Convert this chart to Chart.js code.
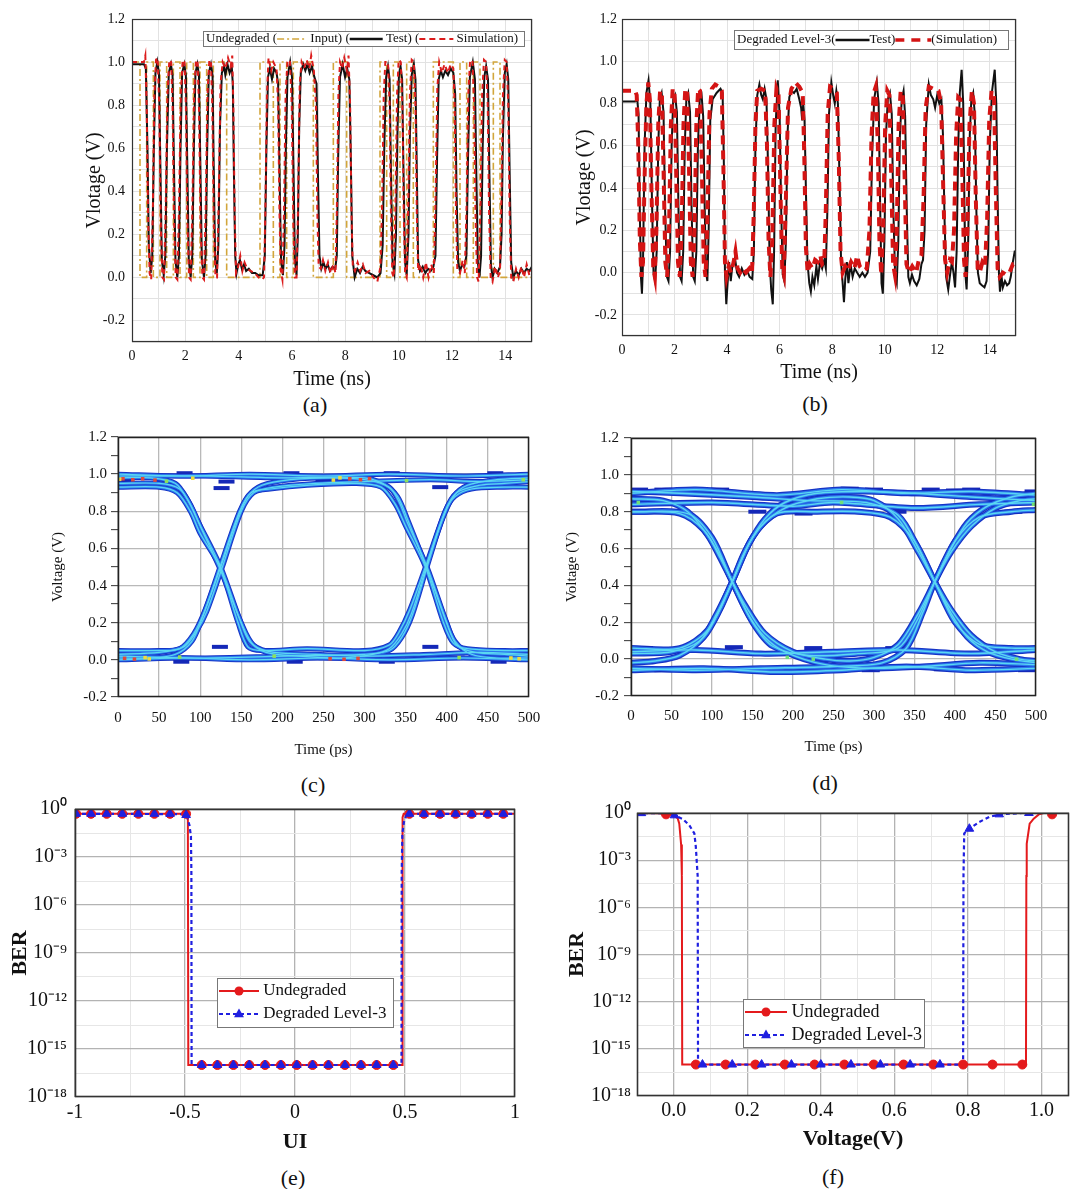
<!DOCTYPE html>
<html>
<head>
<meta charset="utf-8">
<script src="https://cdn.jsdelivr.net/npm/chart.js@4.4.1/dist/chart.umd.min.js"></script>
<style>
  body { margin: 0; background: #fff; }
  #page { position: relative; width: 1075px; height: 1189px; overflow: hidden; background: #fff;
          font-family: "Liberation Serif", "Times New Roman", serif; }
  #page canvas { position: absolute; }
  .cap { position: absolute; font-size: 22px; color: #111; transform: translate(-50%, -50%); white-space: nowrap; }
</style>
</head>
<body>
<div id="page">
  <div class="cap" style="left:315px;top:405px">(a)</div>
  <div class="cap" style="left:815px;top:404px">(b)</div>
  <div class="cap" style="left:313px;top:785px">(c)</div>
  <div class="cap" style="left:825px;top:783px">(d)</div>
  <div class="cap" style="left:293px;top:1178px">(e)</div>
  <div class="cap" style="left:833px;top:1177px">(f)</div>
</div>
<script>
// ---- data ----

// (a) undegraded waveform, time in ns, voltage in V
const inputA = [[0,1],[0.3,0],[0.55,1],[0.8,0],[1.05,1],[1.3,0],[1.55,1],[1.8,0],[2.05,1],[2.3,0],[2.55,1],[2.8,0],[3.05,1],[3.55,0],[4.8,1],[5.3,0],[5.55,1],[5.8,0],[6.05,1],[6.8,0],[7.55,1],[8.05,0],[9.3,1],[9.55,0],[9.8,1],[10.05,0],[10.3,1],[10.55,0],[11.3,1],[12.05,0],[12.3,1],[12.55,0],[12.8,1],[13.05,0],[13.55,1],[13.8,0],[15,0]];
const testA = [[0,0.99],[0.45,0.99],[0.52,0.97],[0.58,0.6],[0.63,0.15],[0.7,0.02],[0.76,0.1],[0.82,0.6],[0.88,0.95],[0.95,1.0],[1.01,0.95],[1.06,0.55],[1.12,0.08],[1.19,0.01],[1.25,0.1],[1.31,0.6],[1.38,0.95],[1.46,0.99],[1.52,0.94],[1.57,0.55],[1.63,0.08],[1.7,0.0],[1.76,0.1],[1.82,0.6],[1.88,0.95],[1.96,0.99],[2.02,0.94],[2.07,0.55],[2.13,0.08],[2.2,0.0],[2.26,0.1],[2.32,0.6],[2.38,0.95],[2.45,0.99],[2.51,0.94],[2.56,0.55],[2.62,0.08],[2.7,0.0],[2.76,0.1],[2.82,0.6],[2.88,0.95],[2.96,0.99],[3.02,0.94],[3.06,0.55],[3.12,0.08],[3.18,0.02],[3.24,0.15],[3.3,0.7],[3.37,0.95],[3.45,0.98],[3.5,0.94],[3.58,0.99],[3.66,0.95],[3.74,0.98],[3.78,0.9],[3.82,0.5],[3.87,0.1],[3.92,0.02],[3.98,0.06],[4.05,0.08],[4.12,0.04],[4.2,0.06],[4.28,0.03],[4.38,0.04],[4.5,0.02],[4.62,0.02],[4.75,0.01],[4.9,0.01],[4.98,0.1],[5.04,0.6],[5.1,0.93],[5.17,0.97],[5.25,0.92],[5.33,0.97],[5.42,0.95],[5.48,0.9],[5.53,0.5],[5.59,0.08],[5.66,0.01],[5.72,0.15],[5.77,0.6],[5.83,0.93],[5.93,1.0],[6.0,0.93],[6.05,0.55],[6.11,0.08],[6.17,0.01],[6.22,0.2],[6.27,0.7],[6.33,0.95],[6.42,0.99],[6.5,0.96],[6.58,0.99],[6.66,0.95],[6.75,0.98],[6.84,0.93],[6.92,0.9],[6.97,0.5],[7.03,0.1],[7.1,0.04],[7.18,0.07],[7.26,0.04],[7.34,0.06],[7.42,0.03],[7.52,0.05],[7.62,0.04],[7.68,0.1],[7.73,0.55],[7.8,0.93],[7.9,0.99],[7.99,0.93],[8.07,0.97],[8.15,0.92],[8.2,0.6],[8.26,0.1],[8.35,0.0],[8.45,0.04],[8.55,0.02],[8.65,0.05],[8.75,0.03],[8.9,0.02],[9.05,0.01],[9.2,0.0],[9.32,0.02],[9.4,0.15],[9.46,0.6],[9.53,0.93],[9.6,0.98],[9.66,0.92],[9.71,0.5],[9.77,0.07],[9.84,0.02],[9.9,0.2],[9.95,0.65],[10.01,0.94],[10.07,0.98],[10.13,0.92],[10.18,0.5],[10.24,0.07],[10.3,0.01],[10.37,0.2],[10.42,0.65],[10.49,0.94],[10.57,0.99],[10.63,0.92],[10.68,0.5],[10.73,0.08],[10.8,0.03],[10.9,0.05],[11.0,0.02],[11.1,0.04],[11.2,0.03],[11.3,0.05],[11.38,0.1],[11.44,0.55],[11.5,0.92],[11.58,0.96],[11.66,0.93],[11.75,0.96],[11.85,0.94],[11.95,0.97],[12.05,0.95],[12.12,0.85],[12.17,0.4],[12.23,0.07],[12.3,0.03],[12.38,0.06],[12.46,0.05],[12.54,0.1],[12.6,0.55],[12.67,0.93],[12.78,1.0],[12.86,0.92],[12.91,0.5],[12.97,0.07],[13.03,0.0],[13.09,0.1],[13.15,0.6],[13.21,0.93],[13.28,0.98],[13.35,0.92],[13.4,0.5],[13.46,0.06],[13.52,0.0],[13.6,0.04],[13.7,0.02],[13.8,0.05],[13.86,0.2],[13.91,0.65],[13.98,0.95],[14.05,0.99],[14.11,0.92],[14.16,0.5],[14.22,0.07],[14.3,0.0],[14.4,0.03],[14.5,0.01],[14.6,0.04],[14.7,0.02],[14.8,0.04],[14.9,0.03],[15,0.05]];
const simA = [[0,1.0],[0.45,1.0],[0.5,1.03],[0.55,0.8],[0.6,0.3],[0.66,0.02],[0.72,-0.01],[0.78,0.3],[0.84,0.85],[0.9,1.01],[0.96,1.02],[1.02,0.8],[1.08,0.25],[1.14,0.0],[1.2,-0.01],[1.26,0.3],[1.33,0.85],[1.4,1.01],[1.47,1.0],[1.52,0.8],[1.58,0.25],[1.64,0.0],[1.7,-0.01],[1.76,0.3],[1.83,0.85],[1.9,1.01],[1.97,1.0],[2.02,0.8],[2.08,0.25],[2.14,0.0],[2.2,-0.01],[2.26,0.3],[2.33,0.85],[2.4,1.01],[2.46,1.0],[2.51,0.8],[2.57,0.25],[2.64,0.0],[2.7,-0.01],[2.76,0.3],[2.83,0.85],[2.9,1.01],[2.96,1.0],[3.01,0.8],[3.07,0.25],[3.13,0.0],[3.19,0.0],[3.25,0.35],[3.32,0.9],[3.4,1.0],[3.5,0.97],[3.6,1.02],[3.7,0.98],[3.76,1.03],[3.8,0.8],[3.85,0.3],[3.9,0.02],[3.98,0.05],[4.06,0.1],[4.14,0.03],[4.22,0.07],[4.32,0.04],[4.45,0.03],[4.6,0.02],[4.75,0.0],[4.88,-0.01],[4.95,0.0],[5.0,0.3],[5.06,0.85],[5.12,1.02],[5.22,0.96],[5.3,1.0],[5.42,0.97],[5.48,0.8],[5.53,0.3],[5.58,0.03],[5.64,-0.01],[5.7,0.3],[5.76,0.85],[5.83,1.0],[5.92,1.01],[5.99,0.8],[6.05,0.25],[6.11,0.0],[6.17,0.0],[6.23,0.35],[6.29,0.9],[6.36,1.0],[6.45,0.97],[6.55,1.01],[6.65,0.97],[6.72,1.03],[6.82,0.96],[6.9,0.8],[6.95,0.3],[7.0,0.05],[7.08,0.04],[7.16,0.08],[7.25,0.03],[7.35,0.07],[7.45,0.02],[7.55,0.06],[7.63,0.02],[7.68,0.3],[7.74,0.85],[7.8,1.0],[7.88,0.97],[7.96,1.02],[8.06,0.96],[8.12,1.03],[8.18,0.8],[8.23,0.3],[8.28,0.05],[8.36,0.03],[8.46,0.07],[8.56,0.03],[8.66,0.06],[8.76,0.02],[8.9,0.03],[9.05,0.0],[9.2,-0.02],[9.32,0.05],[9.38,0.35],[9.44,0.85],[9.5,1.0],[9.6,1.0],[9.66,0.8],[9.71,0.3],[9.76,0.02],[9.82,0.0],[9.88,0.35],[9.94,0.85],[10.0,1.01],[10.08,1.0],[10.14,0.8],[10.19,0.3],[10.24,0.02],[10.3,0.0],[10.36,0.35],[10.42,0.85],[10.49,1.01],[10.57,1.0],[10.63,0.8],[10.68,0.3],[10.73,0.03],[10.82,0.06],[10.92,0.0],[11.02,0.07],[11.12,0.0],[11.22,0.06],[11.32,0.02],[11.38,0.35],[11.45,0.88],[11.52,1.0],[11.62,0.95],[11.72,0.99],[11.85,0.95],[11.95,0.99],[12.05,0.97],[12.1,0.8],[12.15,0.3],[12.2,0.03],[12.3,0.02],[12.4,0.08],[12.48,0.02],[12.55,0.35],[12.61,0.85],[12.68,1.01],[12.77,1.0],[12.83,0.8],[12.88,0.3],[12.94,0.0],[13.0,-0.02],[13.07,0.35],[13.13,0.85],[13.2,1.01],[13.28,1.0],[13.34,0.8],[13.39,0.3],[13.45,0.0],[13.52,-0.02],[13.62,0.05],[13.72,0.0],[13.8,0.03],[13.85,0.35],[13.91,0.85],[13.98,1.01],[14.05,1.0],[14.11,0.8],[14.16,0.3],[14.22,0.0],[14.3,-0.02],[14.4,0.04],[14.5,0.0],[14.6,0.05],[14.7,0.0],[14.8,0.06],[14.9,0.01],[15,0.04]];

// (b) degraded level-3 waveform
const testB = [[0,0.81],[0.5,0.81],[0.58,0.82],[0.63,0.75],[0.67,0.35],[0.72,-0.02],[0.76,-0.1],[0.8,0.05],[0.86,0.6],[0.93,0.85],[1.01,0.91],[1.08,0.8],[1.14,0.35],[1.2,0.0],[1.26,-0.04],[1.32,0.1],[1.38,0.6],[1.44,0.82],[1.51,0.85],[1.58,0.76],[1.64,0.3],[1.71,-0.02],[1.77,-0.04],[1.83,0.1],[1.89,0.6],[1.95,0.82],[2.02,0.84],[2.09,0.76],[2.15,0.3],[2.21,-0.02],[2.27,-0.04],[2.33,0.1],[2.39,0.6],[2.45,0.82],[2.52,0.85],[2.59,0.76],[2.65,0.3],[2.71,-0.02],[2.77,-0.04],[2.83,0.1],[2.89,0.6],[2.96,0.82],[3.03,0.84],[3.09,0.74],[3.15,0.3],[3.2,0.0],[3.25,-0.04],[3.3,0.2],[3.36,0.72],[3.45,0.82],[3.6,0.85],[3.75,0.87],[3.83,0.85],[3.88,0.5],[3.92,0.0],[3.97,-0.15],[4.02,-0.05],[4.08,0.05],[4.14,-0.04],[4.2,0.03],[4.3,0.07],[4.38,0.0],[4.46,-0.02],[4.56,0.02],[4.66,-0.01],[4.76,0.01],[4.86,-0.02],[4.96,-0.03],[5.02,0.1],[5.08,0.6],[5.15,0.84],[5.23,0.89],[5.3,0.84],[5.36,0.82],[5.43,0.87],[5.5,0.82],[5.56,0.5],[5.62,0.05],[5.68,-0.08],[5.74,-0.15],[5.79,0.1],[5.85,0.7],[5.93,0.91],[6.0,0.75],[6.06,0.3],[6.12,-0.01],[6.18,-0.04],[6.24,0.15],[6.3,0.65],[6.37,0.83],[6.45,0.86],[6.55,0.85],[6.65,0.87],[6.75,0.82],[6.82,0.78],[6.86,0.72],[6.9,0.8],[6.95,0.72],[7.0,0.4],[7.06,0.05],[7.13,-0.05],[7.19,-0.09],[7.25,-0.02],[7.32,-0.06],[7.4,0.03],[7.46,-0.03],[7.54,0.05],[7.62,0.02],[7.7,0.06],[7.76,0.02],[7.82,0.3],[7.88,0.75],[7.97,0.9],[8.04,0.84],[8.1,0.8],[8.16,0.86],[8.22,0.8],[8.28,0.45],[8.34,0.05],[8.4,-0.05],[8.45,-0.14],[8.5,-0.03],[8.56,0.05],[8.62,-0.05],[8.7,0.04],[8.78,-0.02],[8.86,0.02],[8.95,0.0],[9.05,-0.02],[9.15,0.0],[9.25,-0.02],[9.35,0.0],[9.45,0.1],[9.52,0.55],[9.6,0.82],[9.7,0.9],[9.77,0.8],[9.83,0.3],[9.88,-0.05],[9.93,-0.1],[9.99,0.15],[10.05,0.65],[10.12,0.82],[10.2,0.85],[10.27,0.75],[10.33,0.3],[10.4,-0.02],[10.46,-0.05],[10.52,0.15],[10.58,0.65],[10.65,0.82],[10.72,0.86],[10.78,0.74],[10.84,0.3],[10.9,-0.02],[10.96,-0.05],[11.04,-0.01],[11.12,-0.04],[11.22,-0.06],[11.32,-0.03],[11.4,0.04],[11.46,0.06],[11.52,0.2],[11.58,0.7],[11.68,0.89],[11.76,0.84],[11.85,0.82],[11.92,0.78],[12.0,0.84],[12.08,0.8],[12.16,0.82],[12.22,0.65],[12.28,0.25],[12.34,-0.02],[12.42,-0.08],[12.5,0.0],[12.56,0.05],[12.62,0.0],[12.68,-0.07],[12.74,0.1],[12.8,0.6],[12.86,0.85],[12.93,0.96],[12.99,0.8],[13.04,0.3],[13.08,-0.02],[13.12,-0.08],[13.18,0.15],[13.24,0.65],[13.3,0.82],[13.37,0.85],[13.43,0.75],[13.49,0.3],[13.55,0.0],[13.62,-0.05],[13.7,-0.06],[13.8,-0.07],[13.88,-0.04],[13.94,0.1],[14.0,0.6],[14.08,0.85],[14.19,0.96],[14.25,0.8],[14.3,0.35],[14.35,0.0],[14.39,-0.09],[14.45,-0.02],[14.5,-0.07],[14.58,-0.04],[14.66,-0.06],[14.74,-0.05],[14.8,-0.02],[14.88,0.05],[14.95,0.1],[15,0.1]];
const simB = [[0,0.86],[0.5,0.86],[0.56,0.84],[0.62,0.6],[0.68,0.15],[0.74,-0.02],[0.8,0.05],[0.86,0.45],[0.93,0.8],[1.0,0.9],[1.06,0.82],[1.12,0.4],[1.19,0.02],[1.25,-0.02],[1.31,0.2],[1.38,0.7],[1.45,0.86],[1.52,0.84],[1.58,0.5],[1.65,0.05],[1.72,-0.02],[1.79,0.2],[1.86,0.7],[1.93,0.87],[2.0,0.85],[2.06,0.5],[2.13,0.05],[2.2,-0.02],[2.27,0.2],[2.34,0.7],[2.41,0.87],[2.48,0.86],[2.55,0.5],[2.62,0.05],[2.69,-0.02],[2.76,0.2],[2.83,0.7],[2.9,0.87],[2.97,0.86],[3.04,0.5],[3.11,0.05],[3.18,-0.02],[3.25,0.25],[3.33,0.75],[3.42,0.87],[3.55,0.89],[3.7,0.88],[3.8,0.86],[3.86,0.5],[3.92,0.05],[3.98,-0.02],[4.06,0.03],[4.15,0.0],[4.25,0.05],[4.32,0.1],[4.4,0.02],[4.5,0.0],[4.6,0.02],[4.72,0.0],[4.85,0.02],[4.95,0.0],[5.02,0.3],[5.08,0.7],[5.15,0.86],[5.3,0.87],[5.45,0.86],[5.52,0.6],[5.58,0.15],[5.65,-0.02],[5.72,0.15],[5.8,0.7],[5.88,0.87],[5.96,0.84],[6.03,0.4],[6.1,0.02],[6.16,-0.01],[6.24,0.35],[6.32,0.78],[6.45,0.87],[6.6,0.9],[6.75,0.88],[6.88,0.85],[6.94,0.55],[7.0,0.12],[7.07,0.0],[7.15,0.04],[7.25,0.02],[7.35,0.06],[7.45,0.05],[7.55,0.08],[7.62,0.04],[7.7,0.05],[7.76,0.3],[7.83,0.75],[7.92,0.88],[8.05,0.87],[8.18,0.85],[8.25,0.55],[8.32,0.1],[8.4,0.0],[8.5,0.03],[8.6,0.01],[8.72,0.05],[8.85,0.02],[8.95,0.08],[9.05,0.03],[9.2,0.01],[9.32,0.02],[9.42,0.2],[9.5,0.65],[9.58,0.85],[9.66,0.88],[9.74,0.6],[9.8,0.15],[9.87,-0.01],[9.94,0.2],[10.02,0.7],[10.1,0.86],[10.18,0.84],[10.25,0.45],[10.32,0.04],[10.39,-0.01],[10.46,0.2],[10.53,0.7],[10.61,0.86],[10.69,0.84],[10.76,0.45],[10.83,0.04],[10.92,0.0],[11.05,0.03],[11.2,0.0],[11.3,0.06],[11.4,0.08],[11.48,0.35],[11.56,0.78],[11.68,0.88],[11.85,0.87],[12.05,0.86],[12.15,0.8],[12.22,0.45],[12.3,0.06],[12.38,0.0],[12.48,0.06],[12.56,0.05],[12.64,0.2],[12.72,0.65],[12.8,0.83],[12.88,0.82],[12.95,0.5],[13.02,0.06],[13.08,-0.02],[13.15,0.2],[13.23,0.7],[13.32,0.86],[13.4,0.8],[13.47,0.35],[13.54,0.02],[13.62,0.0],[13.72,0.05],[13.82,0.03],[13.9,0.25],[13.98,0.72],[14.07,0.86],[14.16,0.84],[14.23,0.4],[14.3,0.02],[14.38,-0.02],[14.5,0.0],[14.62,-0.01],[14.75,0.0],[14.88,0.04],[15,0.04]];

// (c) undegraded eye, time in ps, voltage in V, one array per traced path
const eyeC = [
  [[0,0.01],[40,0.01],[70,0.03],[90,0.1],[102,0.22],[125,0.5],[145,0.76],[158,0.88],[175,0.94],[210,0.97],[260,0.98],[300,0.97],[325,0.94],[340,0.88],[352,0.76],[375,0.5],[398,0.22],[410,0.1],[430,0.03],[460,0.01],[500,0.01]],
  [[0,0.98],[40,0.98],[70,0.95],[85,0.86],[97,0.75],[125,0.5],[148,0.22],[160,0.1],[180,0.04],[220,0.02],[270,0.01],[310,0.03],[330,0.06],[345,0.14],[357,0.25],[375,0.5],[395,0.76],[408,0.88],[425,0.94],[460,0.97],[500,0.98]],
  [[0,0.03],[50,0.04],[80,0.07],[95,0.15],[108,0.26],[127,0.5],[150,0.8],[165,0.9],[190,0.93],[240,0.95],[300,0.96],[380,0.97],[440,0.96],[500,0.97]],
  [[0,0.95],[50,0.95],[75,0.92],[90,0.82],[102,0.7],[125,0.48],[150,0.2],[165,0.08],[190,0.04],[240,0.03],[300,0.02],[380,0.03],[440,0.04],[500,0.03]],
  [[0,0.99],[100,0.99],[200,0.98],[300,0.98],[330,0.93],[342,0.85],[352,0.74],[376,0.5],[400,0.2],[412,0.08],[435,0.04],[470,0.03],[500,0.02]],
  [[0,0.02],[100,0.01],[200,0.02],[300,0.03],[330,0.05],[345,0.12],[358,0.24],[376,0.5],[398,0.8],[412,0.9],[440,0.94],[470,0.95],[500,0.96]],
  [[0,1.0],[80,0.99],[160,1.0],[250,0.99],[330,1.0],[420,0.99],[500,1.0]],
  [[0,0.0],[80,0.01],[160,0.0],[250,0.01],[330,0.0],[420,0.01],[500,0.0]],
  [[0,0.05],[50,0.05],[75,0.06],[92,0.14],[106,0.27],[124,0.5],[148,0.8],[162,0.9],[185,0.92],[230,0.94],[290,0.95],[320,0.93],[337,0.84],[350,0.72],[374,0.5],[396,0.2],[408,0.09],[425,0.06],[470,0.05],[500,0.05]],
  [[0,0.93],[50,0.93],[72,0.9],[88,0.8],[100,0.68],[124,0.5],[146,0.2],[158,0.07],[175,0.05],[230,0.06],[300,0.05],[330,0.08],[342,0.15],[355,0.27],[374,0.5],[398,0.8],[410,0.88],[430,0.92],[470,0.93],[500,0.93]]
];
const eyeCBars = [[81,1.005],[211,1.005],[333,1.005],[459,1.005],[10,0.965],[132,0.96],[250,0.965],[392,0.93],[126,0.925],[77,-0.01],[215,-0.01],[327,-0.01],[463,-0.01],[59,0.012],[189,0.012],[311,0.012],[412,0.012],[124,0.07],[380,0.07]];
const eyeCRed = [[6,0.975],[18,0.97],[30,0.975],[45,0.968],[282,0.975],[295,0.97],[306,0.976],[8,0.008],[20,0.004],[258,0.006],[275,0.003],[292,0.008]];
const eyeCYellow = [[2,0.972],[91,0.978],[262,0.968],[270,0.98],[33,0.012],[38,0.005],[478,0.01],[488,0.006]];
const eyeCGreen = [[59,0.962],[351,0.965],[493,0.97],[75,0.015],[190,0.02],[415,0.012]];

// (d) degraded eye
const eyeD = [
  [[0,-0.02],[30,-0.01],[60,0.02],[90,0.12],[110,0.27],[125,0.42],[140,0.58],[160,0.72],[190,0.82],[230,0.87],[270,0.88],[300,0.86],[330,0.76],[355,0.58],[375,0.42],[395,0.27],[420,0.13],[450,0.04],[480,0.0],[500,-0.01]],
  [[0,0.87],[40,0.86],[70,0.8],[95,0.67],[110,0.55],[125,0.42],[140,0.3],[165,0.14],[200,0.04],[240,0.0],[270,-0.01],[300,0.01],[330,0.08],[355,0.25],[375,0.42],[395,0.58],[420,0.72],[450,0.82],[480,0.86],[500,0.87]],
  [[0,0.03],[50,0.04],[85,0.1],[105,0.24],[125,0.42],[145,0.62],[165,0.76],[190,0.85],[230,0.9],[290,0.91],[350,0.9],[420,0.88],[500,0.86]],
  [[0,0.8],[60,0.79],[90,0.7],[110,0.56],[125,0.42],[145,0.24],[165,0.12],[190,0.04],[240,-0.03],[300,-0.05],[360,-0.04],[430,-0.02],[500,-0.03]],
  [[0,0.91],[60,0.9],[150,0.88],[220,0.86],[290,0.85],[330,0.78],[355,0.6],[375,0.42],[395,0.25],[415,0.12],[440,0.04],[470,0.0],[500,-0.02]],
  [[0,-0.05],[80,-0.06],[160,-0.05],[250,-0.04],[310,-0.02],[340,0.06],[360,0.25],[375,0.42],[395,0.6],[415,0.74],[440,0.83],[470,0.88],[500,0.9]],
  [[0,0.84],[100,0.85],[200,0.83],[250,0.85],[350,0.82],[430,0.84],[500,0.85]],
  [[0,0.04],[80,0.05],[160,0.03],[250,0.04],[330,0.05],[420,0.03],[500,0.05]],
  [[0,0.9],[80,0.92],[180,0.89],[260,0.92],[340,0.9],[420,0.91],[500,0.89]],
  [[0,-0.06],[90,-0.05],[180,-0.07],[260,-0.06],[340,-0.04],[420,-0.06],[500,-0.05]],
  [[0,0.8],[70,0.79],[100,0.66],[125,0.42],[150,0.2],[175,0.07],[220,0.02],[280,0.03],[330,0.06],[352,0.2],[375,0.42],[400,0.64],[430,0.77],[470,0.8],[500,0.81]],
  [[0,0.06],[60,0.06],[95,0.16],[125,0.42],[150,0.66],[180,0.79],[230,0.8],[280,0.8],[320,0.77],[350,0.64],[375,0.42],[400,0.2],[430,0.08],[470,0.06],[500,0.06]]
];
const eyeDBars = [[10,0.92],[40,0.92],[110,0.92],[270,0.925],[300,0.92],[370,0.92],[400,0.915],[420,0.92],[497,0.91],[28,0.8],[156,0.8],[213,0.79],[329,0.8],[472,0.8],[40,-0.06],[106,-0.055],[200,-0.065],[296,-0.06],[385,-0.055],[489,-0.06],[16,0.06],[127,0.065],[225,0.06],[325,0.06],[497,0.06]];
const eyeDGreen = [[9,0.85],[260,0.85],[497,0.84],[225,0.0],[476,0.0],[193,0.01]];

// (e) BER vs UI
const berUiUndeg = [[-1,0.5],[-0.49,0.5],[-0.487,0.3],[-0.485,1e-16],[0.487,1e-16],[0.489,0.3],[0.494,0.5],[1,0.5]];
const berUiDeg = [[-1,0.5],[-0.5,0.48],[-0.49,0.3],[-0.48,0.1],[-0.473,0.02],[-0.471,1e-4],[-0.47,1e-16],[0.484,1e-16],[0.485,1e-4],[0.488,0.03],[0.495,0.15],[0.505,0.35],[0.52,0.5],[1,0.5]];
const berUiUndegMarks = [[-0.995,0.5],[-0.927,0.5],[-0.856,0.5],[-0.785,0.5],[-0.712,0.5],[-0.639,0.5],[-0.568,0.5],[-0.495,0.5],[-0.424,1e-16],[-0.353,1e-16],[-0.28,1e-16],[-0.208,1e-16],[-0.136,1e-16],[-0.064,1e-16],[0.008,1e-16],[0.08,1e-16],[0.152,1e-16],[0.227,1e-16],[0.3,1e-16],[0.371,1e-16],[0.447,1e-16],[0.52,0.5],[0.586,0.5],[0.659,0.5],[0.73,0.5],[0.803,0.5],[0.876,0.5],[0.947,0.5]];
const berUiDegMarks = [[-0.995,0.5],[-0.927,0.5],[-0.856,0.5],[-0.785,0.5],[-0.712,0.5],[-0.639,0.5],[-0.568,0.5],[-0.495,0.42],[-0.424,1e-16],[-0.353,1e-16],[-0.28,1e-16],[-0.208,1e-16],[-0.136,1e-16],[-0.064,1e-16],[0.008,1e-16],[0.08,1e-16],[0.152,1e-16],[0.227,1e-16],[0.3,1e-16],[0.371,1e-16],[0.447,1e-16],[0.52,0.5],[0.586,0.5],[0.659,0.5],[0.73,0.5],[0.803,0.5],[0.876,0.5],[0.947,0.5]];

// (f) BER vs voltage
const berVUndeg = [[-0.1,1.0],[-0.04,0.95],[-0.021,0.82],[0.0,0.72],[0.011,0.44],[0.015,0.21],[0.02,0.01],[0.022,1e-4],[0.023,1e-16],[0.958,1e-16],[0.959,1e-4],[0.96,0.011],[0.968,0.21],[0.979,0.44],[0.993,0.82],[1.006,1.0],[1.075,1.0]];
const berVDeg = [[-0.1,1.0],[-0.02,0.98],[0.002,0.71],[0.025,0.4],[0.042,0.17],[0.056,0.05],[0.06,0.007],[0.065,1e-4],[0.066,1e-16],[0.787,1e-16],[0.788,1e-4],[0.79,0.05],[0.804,0.1],[0.831,0.27],[0.858,0.56],[0.885,0.82],[0.948,1.0],[1.075,1.0]];
const berVUndegMarks = [[-0.021,0.82],[0.06,1e-16],[0.141,1e-16],[0.222,1e-16],[0.302,1e-16],[0.383,1e-16],[0.464,1e-16],[0.544,1e-16],[0.625,1e-16],[0.706,1e-16],[0.787,1e-16],[0.867,1e-16],[0.948,1e-16],[1.029,0.82]];
const berVDegMarks = [[-0.088,0.98],[0.002,0.71],[0.078,1e-16],[0.159,1e-16],[0.239,1e-16],[0.32,1e-16],[0.4,1e-16],[0.482,1e-16],[0.562,1e-16],[0.643,1e-16],[0.724,1e-16],[0.804,0.1],[0.885,0.82],[0.966,1.0]];

// tick positions and labels
const waveXTicks = [0,1,2,3,4,5,6,7,8,9,10,11,12,13,14,15];
const waveXLabels = [0,2,4,6,8,10,12,14];
const waveYTicks = [-0.3,-0.2,-0.1,0,0.1,0.2,0.3,0.4,0.5,0.6,0.7,0.8,0.9,1.0,1.1,1.2];
const waveYLabels = [-0.2,0,0.2,0.4,0.6,0.8,1.0,1.2];
const eyeXTicks = [0,50,100,150,200,250,300,350,400,450,500];
const eyeYTicks = [-0.2,-0.1,0,0.1,0.2,0.3,0.4,0.5,0.6,0.7,0.8,0.9,1.0,1.1,1.2];
const eyeYLabels = [-0.2,0,0.2,0.4,0.6,0.8,1.0,1.2];
const uiTicks = [-1,-0.75,-0.5,-0.25,0,0.25,0.5,0.75,1];
const uiLabels = [-1,-0.5,0,0.5,1];
const voltTicks = [-0.1,0,0.1,0.2,0.3,0.4,0.5,0.6,0.7,0.8,0.9,1.0];
const voltLabels = [0,0.2,0.4,0.6,0.8,1.0];
const berMajorExp = [0,-3,-6,-9,-12,-15,-18];
const berMinorExp = [-1.5,-4.5,-7.5,-10.5,-13.5,-16.5];

// ---- helpers ----
Chart.defaults.font.family = '"Liberation Serif", "Times New Roman", serif';
Chart.defaults.color = '#111';

const pts = a => a.map(([x, y]) => ({x, y}));
const inList = (list, v) => list.some(l => Math.abs(l - v) < 1e-9);
const SUP = {'0':'⁰','1':'¹','2':'²','3':'³','4':'⁴','5':'⁵','6':'⁶','7':'⁷','8':'⁸','9':'⁹','-':'⁻'};
const powLabel = e => '10' + String(e).split('').map(c => SUP[c]).join('');

const panels = {
  a: {left: 60,  top: 0,   w: 490, h: 395, area: {l: 132, r: 532,  t: 19,  b: 342}},
  b: {left: 555, top: 0,   w: 475, h: 390, area: {l: 622, r: 1016, t: 19,  b: 336}},
  c: {left: 35,  top: 420, w: 510, h: 345, area: {l: 118, r: 529,  t: 437, b: 697}},
  d: {left: 555, top: 420, w: 495, h: 345, area: {l: 631, r: 1036, t: 438, b: 696}},
  e: {left: 0,   top: 790, w: 545, h: 370, area: {l: 75,  r: 515,  t: 809, b: 1097}},
  f: {left: 555, top: 790, w: 520, h: 370, area: {l: 637, r: 1075, t: 813, b: 1096}}
};

// frame around the plotting area
const panelBox = {
  id: 'panelBox',
  afterDraw(chart, args, o) {
    const {ctx, chartArea: a} = chart;
    ctx.save();
    ctx.strokeStyle = o.color || '#333';
    ctx.lineWidth = o.width || 1;
    ctx.strokeRect(a.left + 0.5, a.top + 0.5, a.right - a.left - 1, a.bottom - a.top - 1);
    ctx.restore();
  }
};

function drawMarker(ctx, kind, x, y, color, r) {
  ctx.fillStyle = color;
  ctx.beginPath();
  if (kind === 'circle') {
    ctx.arc(x, y, r, 0, Math.PI * 2);
  } else {
    ctx.moveTo(x, y - r);
    ctx.lineTo(x + r * 0.9, y + r * 0.6);
    ctx.lineTo(x - r * 0.9, y + r * 0.6);
    ctx.closePath();
  }
  ctx.fill();
}

// boxed legend made of text runs and line samples
const boxLegend = {
  id: 'boxLegend',
  afterDraw(chart, args, o) {
    if (!o.rows) return;
    const ctx = chart.ctx;
    ctx.save();
    ctx.fillStyle = '#fff';
    ctx.fillRect(o.x, o.y, o.w, o.h);
    ctx.strokeStyle = o.border || '#666';
    ctx.lineWidth = 1;
    ctx.strokeRect(o.x + 0.5, o.y + 0.5, o.w, o.h);
    ctx.font = o.font;
    ctx.textBaseline = 'middle';
    o.rows.forEach((row, i) => {
      let x = o.x + o.pad;
      const y = o.y + o.rowY[i];
      row.forEach(p => {
        if (p.text !== undefined) {
          ctx.fillStyle = '#111';
          ctx.fillText(p.text, x, y);
          x += ctx.measureText(p.text).width;
        } else {
          ctx.beginPath();
          ctx.setLineDash(p.dash || []);
          ctx.strokeStyle = p.color;
          ctx.lineWidth = p.width;
          ctx.moveTo(x, y);
          ctx.lineTo(x + p.len, y);
          ctx.stroke();
          ctx.setLineDash([]);
          if (p.marker) drawMarker(ctx, p.marker, x + p.len / 2, y, p.color, p.r);
          x += p.len;
        }
      });
    });
    ctx.restore();
  }
};
Chart.register(panelBox, boxLegend);

function axis(c) {
  return {
    type: c.type || 'linear',
    position: c.pos,
    bounds: 'data',
    min: c.min,
    max: c.max,
    afterBuildTicks: s => { s.ticks = c.ticks.map(value => ({value})); },
    afterFit: s => { if (c.pos === 'left') s.width = c.size; else s.height = c.size; },
    grid: {
      color: g => c.gridColor(g.tick ? g.tick.value : 0),
      lineWidth: g => c.gridWidth(g.tick ? g.tick.value : 0),
      drawTicks: c.tickLen > 0,
      tickLength: c.tickLen,
      tickColor: c.tickColor || 'rgba(0,0,0,0)',
      tickWidth: 1
    },
    border: {display: false},
    ticks: {autoSkip: false, maxRotation: 0, minRotation: 0, padding: c.pad, color: '#111', font: c.font, callback: v => c.label(v)},
    title: {
      display: true, text: c.title, color: '#111', font: c.titleFont,
      padding: c.pos === 'left' ? {top: c.titlePad, bottom: 0} : {top: 0, bottom: c.titlePad}
    }
  };
}

function makeChart(key, datasets, scales, plugins) {
  const p = panels[key];
  const cv = document.createElement('canvas');
  cv.width = p.w; cv.height = p.h;
  cv.style.left = p.left + 'px'; cv.style.top = p.top + 'px';
  cv.style.width = p.w + 'px'; cv.style.height = p.h + 'px';
  document.getElementById('page').appendChild(cv);
  return new Chart(cv, {
    type: 'line',
    data: {datasets},
    options: {
      responsive: false, animation: false, devicePixelRatio: 1, events: [],
      layout: {padding: {left: 0, bottom: 0, top: p.area.t - p.top, right: p.left + p.w - p.area.r}},
      plugins: Object.assign({legend: {display: false}, tooltip: {enabled: false}}, plugins),
      scales
    }
  });
}

const line = (data, color, width, extra) => Object.assign({data: pts(data), borderColor: color, borderWidth: width, pointRadius: 0, fill: false}, extra);
const marks = (data, color, style, r, extra) => Object.assign({data: pts(data), showLine: false, pointStyle: style, pointRadius: r, backgroundColor: color, borderColor: color, borderWidth: 1}, extra);

// ---- (a) and (b): waveforms ----
const YELLOW = '#d2a63c', BLACK = '#111', RED = '#dc1c1c';
function waveScales(k, o) {
  const p = panels[k];
  return {
    x: axis({pos: 'bottom', min: 0, max: 15, ticks: waveXTicks, size: p.top + p.h - p.area.b,
      label: v => inList(waveXLabels, v) ? String(v) : '',
      gridColor: () => '#e2e2e2', gridWidth: () => 1, tickLen: o.xTick, pad: 2,
      font: {size: 14}, title: 'Time (ns)', titleFont: {size: 20}, titlePad: o.xTitlePad}),
    y: axis({pos: 'left', min: -0.3, max: 1.2, ticks: waveYTicks, size: p.area.l - p.left,
      label: v => inList(waveYLabels, v) ? v.toFixed(1) : '',
      gridColor: () => '#e2e2e2', gridWidth: () => 1, tickLen: 0, pad: o.yPad,
      font: {size: 14}, title: 'Vlotage (V)', titleFont: {size: 20}, titlePad: o.yTitlePad})
  };
}

makeChart('a', [
  line(inputA, YELLOW, 1.6, {stepped: 'before', borderDash: [7, 3, 2, 3], order: 3}),
  line(testA, BLACK, 2, {order: 2}),
  line(simA, RED, 2, {borderDash: [5, 4], order: 1})
], waveScales('a', {xTick: 4, xTitlePad: 3, yPad: 7, yTitlePad: 23}), {
  panelBox: {color: '#333', width: 1.2},
  boxLegend: {x: 143, y: 31, w: 321, h: 15, pad: 3, rowY: [8], font: '13px "Liberation Serif"', border: '#777',
    rows: [[{text: 'Undegraded ('}, {len: 30, color: YELLOW, width: 1.6, dash: [7, 3, 2, 3]}, {text: ' Input) ('},
            {len: 33, color: BLACK, width: 2.4}, {text: ' Test) ('},
            {len: 34, color: RED, width: 2, dash: [6, 4]}, {text: ' Simulation)'}]]}
});

makeChart('b', [
  line(testB, BLACK, 2, {order: 2}),
  line(simB, '#d41414', 4, {borderDash: [9, 6], order: 1})
], waveScales('b', {xTick: 4, xTitlePad: 5, yPad: 5, yTitlePad: 18}), {
  panelBox: {color: '#333', width: 1.2},
  boxLegend: {x: 179, y: 30, w: 274, h: 19, pad: 3, rowY: [10], font: '13px "Liberation Serif"', border: '#777',
    rows: [[{text: 'Degraded Level-3('}, {len: 34, color: BLACK, width: 2.4}, {text: 'Test)'},
            {len: 36, color: '#d41414', width: 3.5, dash: [9, 7]}, {text: '(Simulation)'}]]}
});

// ---- (c) and (d): eye diagrams ----
function eyeSets(traces, widths) {
  const layers = [['#1634c6', widths[0], 4], ['#2c78ee', widths[1], 2], ['#5ad8f2', widths[2], 1]];
  const sets = [];
  layers.forEach(([color, w, order]) => traces.forEach(t => sets.push(line(t, color, w, {tension: 0.3, order}))));
  return sets;
}
function eyeScales(k, o) {
  const p = panels[k];
  return {
    x: axis({pos: 'bottom', min: 0, max: 500, ticks: eyeXTicks, size: p.top + p.h - p.area.b,
      label: v => String(v), gridColor: () => '#b9b9b9', gridWidth: () => 1.3, tickLen: o.xTick, pad: 2,
      font: {size: 15}, title: 'Time (ps)', titleFont: {size: 15}, titlePad: o.xTitlePad}),
    y: axis({pos: 'left', min: -0.2, max: 1.2, ticks: eyeYTicks, size: p.area.l - p.left,
      label: v => inList(eyeYLabels, v) ? v.toFixed(1) : '',
      gridColor: v => inList(eyeYLabels, v) ? '#b9b9b9' : 'rgba(0,0,0,0)', gridWidth: () => 1.3,
      tickLen: 7, tickColor: '#333', pad: o.yPad,
      font: {size: 15}, title: 'Voltage (V)', titleFont: {size: 15}, titlePad: o.yTitlePad})
  };
}

makeChart('c', [
  ...eyeSets(eyeC, [5, 3, 1.2]),
  marks(eyeCBars, '#1428b8', 'line', 8, {borderWidth: 4, order: 3}),
  marks(eyeCGreen, '#8ee05a', 'rect', 2.5, {borderWidth: 0, order: 0}),
  marks(eyeCYellow, '#f0dc3c', 'rect', 2.5, {borderWidth: 0, order: 0}),
  marks(eyeCRed, '#e0483a', 'rect', 2.5, {borderWidth: 0, order: 0})
], eyeScales('c', {xTick: 10, xTitlePad: 6, yPad: 4, yTitlePad: 14}), {
  panelBox: {color: '#222', width: 1.5}
});

makeChart('d', [
  ...eyeSets(eyeD, [6, 3.5, 1.4]),
  marks(eyeDBars, '#1428b8', 'line', 9, {borderWidth: 4, order: 3}),
  marks(eyeDGreen, '#6fe07a', 'rect', 2.5, {borderWidth: 0, order: 0})
], eyeScales('d', {xTick: 9, xTitlePad: 9, yPad: 5, yTitlePad: 8}), {
  panelBox: {color: '#222', width: 1.5}
});

// ---- (e) and (f): BER ----
const BER_RED = '#e41a1c', BER_BLUE = '#1f1fe0';
function berY(k, o) {
  const p = panels[k];
  return axis({type: 'logarithmic', pos: 'left', min: 1e-18, max: 1,
    ticks: [...berMajorExp, ...berMinorExp].map(e => Math.pow(10, e)), size: p.area.l - p.left,
    label: v => {
      const e = Math.log10(v);
      return berMajorExp.some(m => Math.abs(m - e) < 1e-6) ? powLabel(Math.round(e)) : '';
    },
    gridColor: v => berMajorExp.some(m => Math.abs(m - Math.log10(v)) < 1e-6) ? '#b3b3b3' : '#e6e6e6',
    gridWidth: v => berMajorExp.some(m => Math.abs(m - Math.log10(v)) < 1e-6) ? 1.3 : 1,
    tickLen: 2, pad: o.yPad, font: {size: 20}, title: 'BER', titleFont: {size: 22, weight: 'bold'}, titlePad: o.yTitlePad});
}

makeChart('e', [
  line(berUiUndeg, BER_RED, 2, {order: 4}),
  line(berUiDeg, BER_BLUE, 2.2, {borderDash: [4, 3], order: 3}),
  marks(berUiUndegMarks, BER_RED, 'circle', 4.5, {order: 2}),
  marks(berUiDegMarks, BER_BLUE, 'triangle', 5, {order: 1})
], {
  x: axis({pos: 'bottom', min: -1, max: 1, ticks: uiTicks, size: panels.e.top + panels.e.h - panels.e.area.b,
    label: v => inList(uiLabels, v) ? String(v) : '',
    gridColor: v => inList(uiLabels, v) ? '#b3b3b3' : '#e6e6e6',
    gridWidth: v => inList(uiLabels, v) ? 1.3 : 1,
    tickLen: 2, pad: 2, font: {size: 20}, title: 'UI', titleFont: {size: 22, weight: 'bold'}, titlePad: 4}),
  y: berY('e', {yPad: 6, yTitlePad: 7})
}, {
  panelBox: {color: '#333', width: 1.6},
  boxLegend: {x: 217, y: 188, w: 176, h: 49, pad: 2, rowY: [13, 36], font: '17px "Liberation Serif"', border: '#777',
    rows: [[{len: 40, color: BER_RED, width: 2.2, marker: 'circle', r: 4.5}, {text: ' Undegraded'}],
           [{len: 40, color: BER_BLUE, width: 2.2, dash: [4, 3], marker: 'triangle', r: 5.5}, {text: ' Degraded Level-3'}]]}
});

makeChart('f', [
  line(berVUndeg, BER_RED, 2, {order: 4}),
  line(berVDeg, BER_BLUE, 2.2, {borderDash: [4, 3], order: 3}),
  marks(berVUndegMarks, BER_RED, 'circle', 4.5, {order: 2}),
  marks(berVDegMarks, BER_BLUE, 'triangle', 5, {order: 1})
], {
  x: axis({pos: 'bottom', min: -0.1, max: 1.075, ticks: voltTicks, size: panels.f.top + panels.f.h - panels.f.area.b,
    label: v => inList(voltLabels, v) ? v.toFixed(1) : '',
    gridColor: v => inList(voltLabels, v) ? '#b3b3b3' : '#e6e6e6',
    gridWidth: v => inList(voltLabels, v) ? 1.3 : 1,
    tickLen: 1, pad: 2, font: {size: 20}, title: 'Voltage(V)', titleFont: {size: 22, weight: 'bold'}, titlePad: 7}),
  y: berY('f', {yPad: 4, yTitlePad: 9})
}, {
  panelBox: {color: '#333', width: 1.6},
  boxLegend: {x: 188, y: 209, w: 181, h: 48, pad: 2, rowY: [13, 36], font: '18px "Liberation Serif"', border: '#777',
    rows: [[{len: 42, color: BER_RED, width: 2.2, marker: 'circle', r: 4.5}, {text: ' Undegraded'}],
           [{len: 42, color: BER_BLUE, width: 2.2, dash: [4, 3], marker: 'triangle', r: 5.5}, {text: ' Degraded Level-3'}]]}
});
</script>
</body>
</html>
